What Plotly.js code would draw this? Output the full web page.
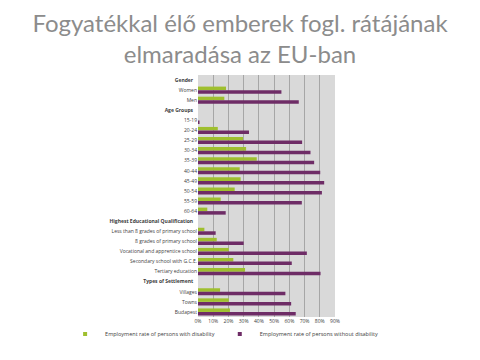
<!DOCTYPE html>
<html><head><meta charset="utf-8">
<script src="https://cdn.plot.ly/plotly-3.0.1.min.js"></script>
<style>html,body{margin:0;padding:0;background:#fff}</style>
</head><body><div id="c" style="width:480px;height:360px"></div>
<script>
const categories = ["Gender","Women","Men","Age Groups","15-19","20-24","25-29","30-34","35-39","40-44","45-49","50-54","55-59","60-64","Highest Educational Qualification","Less than 8 grades of primary school","8 grades of primary school","Vocational and apprentice school","Secondary school with G.C.E.","Tertiary education","Types of Settlement","Villages","Towns","Budapest"];
const headers = ["Gender","Age Groups","Highest Educational Qualification","Types of Settlement"];
const withDisability = [null,18.4,17.3,null,0,13,29.6,31.6,38.6,27.4,28,24.1,14.9,6.1,null,4.2,12.3,20.2,23.2,30.9,null,14.5,20.2,21];
const withoutDisability = [null,54.8,66.2,null,1,33.5,68.4,73.9,76.3,80.3,82.9,81.4,68.2,18.2,null,11.6,30,71.5,61.6,80.5,null,57.4,61.2,64.2];
const xTicks = [0,10,20,30,40,50,60,70,80,90];
const seriesNames = ["Employment rate of persons with disability","Employment rate of persons without disability"];
const seriesColors = ["#9fbf2f","#6e2c66"];

const tickText = categories.map(c => headers.includes(c) ? "<b>"+c+"</b>\u00a0\u00a0\u00a0" : c);

const data = [
  {type:"bar", orientation:"h", name:seriesNames[0], y:categories, x:withDisability, marker:{color:seriesColors[0]}, showlegend:false},
  {type:"bar", orientation:"h", name:seriesNames[1], y:categories, x:withoutDisability, marker:{color:seriesColors[1]}, showlegend:false},
  {type:"scatter", mode:"markers", name:seriesNames[0], x:[null], y:[null], marker:{symbol:"square", size:4, color:seriesColors[0]}, showlegend:true},
  {type:"scatter", mode:"markers", name:seriesNames[1], x:[null], y:[null], marker:{symbol:"square", size:4, color:seriesColors[1]}, showlegend:true}
];
const layout = {
  width:480, height:360,
  paper_bgcolor:"#ffffff", plot_bgcolor:"#d9d9d9",
  margin:{l:198, r:145, t:75, b:39},
  title:{text:"Fogyatékkal élő emberek fogl. rátájának<br>elmaradása az EU-ban", font:{family:"Lato, 'Open Sans', sans-serif", size:24, color:"#8c8c8c"}, x:0.5, xanchor:"center", y:0.911, yanchor:"middle", yref:"container"},
  barmode:"group", bargap:0.3, bargroupgap:0,
  showlegend:true,
  legend:{orientation:"h", x:-0.97, xanchor:"left", y:-0.07, yanchor:"middle", xref:"paper", yref:"paper", bgcolor:"rgba(0,0,0,0)", font:{family:"'Open Sans', sans-serif", size:5.5, color:"#404040"}, itemwidth:30, tracegroupgap:0, itemsizing:"trace"},
  xaxis:{range:[0,90], tickvals:xTicks, ticktext:xTicks.map(v=>v+"%"), showgrid:true, gridcolor:"#a6a6a6", gridwidth:1, zeroline:false, ticks:"", tickfont:{family:"'Open Sans', sans-serif", size:5, color:"#404040"}, showline:false, fixedrange:true},
  yaxis:{type:"category", categoryorder:"array", categoryarray:categories, autorange:"reversed", tickvals:categories, ticktext:tickText, tickfont:{family:"'Open Sans', sans-serif", size:5, color:"#404040"}, ticks:"", showgrid:false, showline:false}
};
Plotly.newPlot("c", data, layout, {displayModeBar:false, staticPlot:true});
</script></body></html>
